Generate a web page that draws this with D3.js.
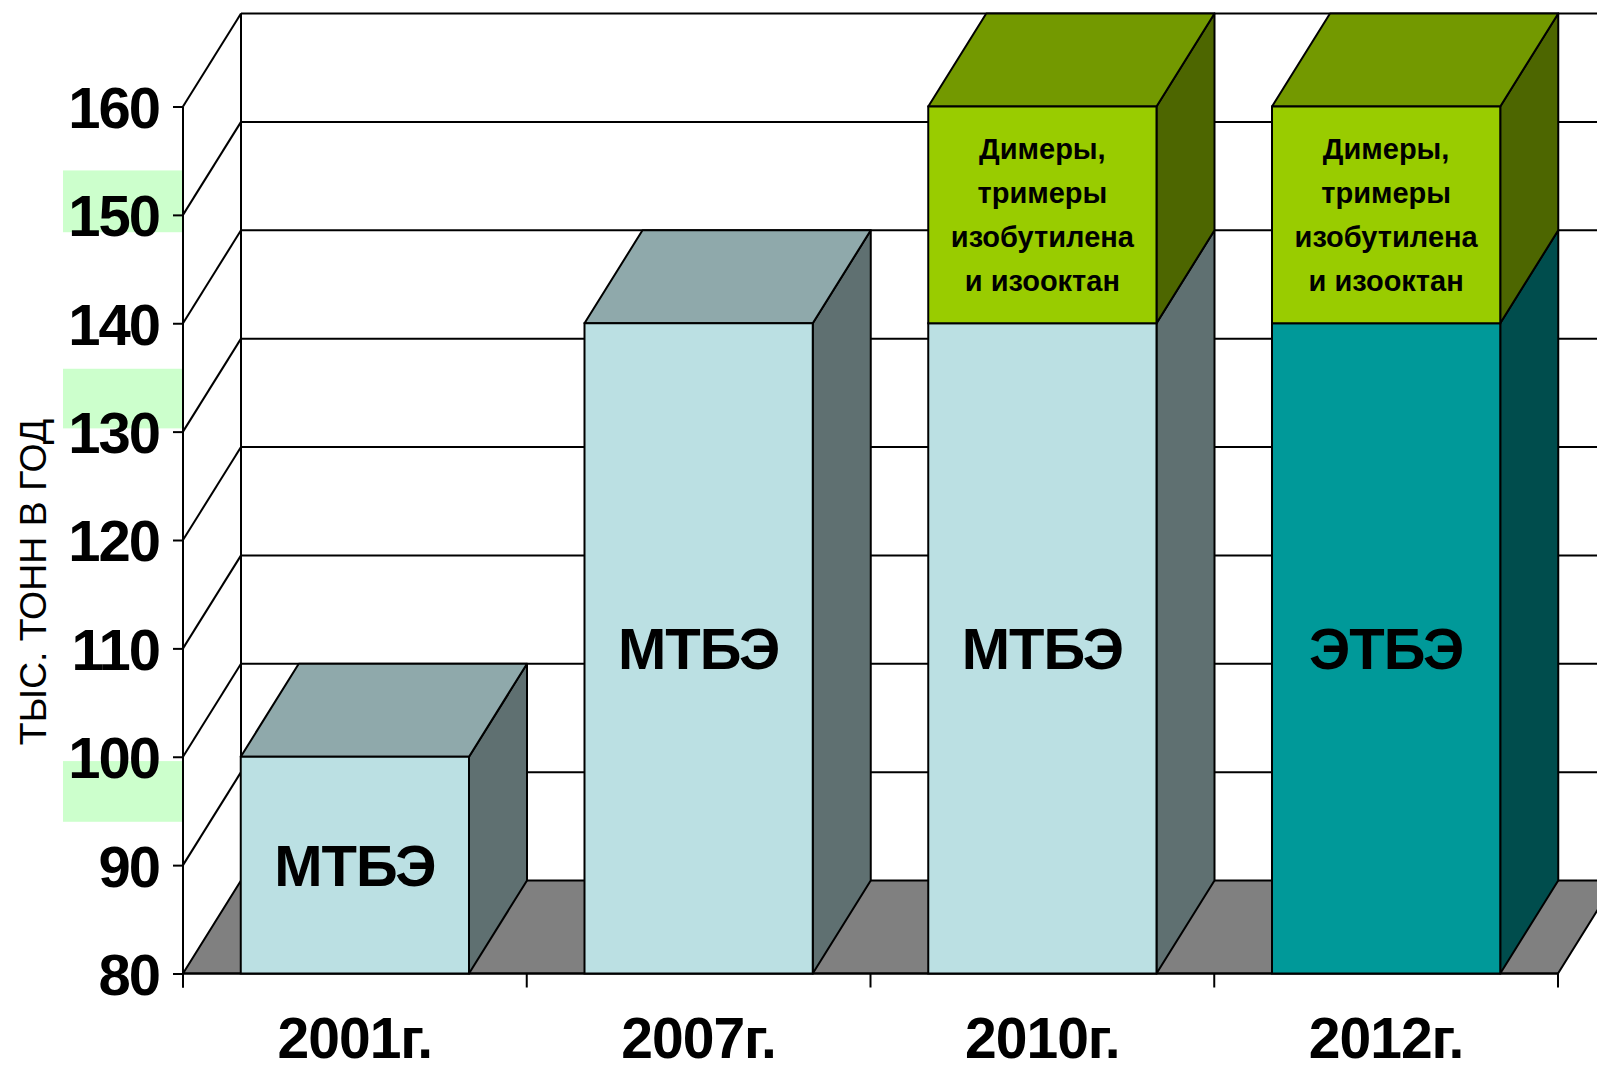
<!DOCTYPE html>
<html>
<head>
<meta charset="utf-8">
<script src="https://cdn.jsdelivr.net/npm/d3@7"></script>
<style>
  body { margin: 0; background: #fff; }
  text { font-family: "Liberation Sans", Arial, sans-serif; }
</style>
</head>
<body>
<div id="chart-container"></div>
<script>
const WIDTH = 1597;
const HEIGHT = 1067;
const PLOT = { left: 183, right: 1558, top: 106.5, bottom: 973.5 };
const DEPTH = { dx: 58, dy: -93 };

// data
const YEARS = ["2001г.", "2007г.", "2010г.", "2012г."];
const BASE_VALUES = [100, 140, 140, 140];
const BASE_NAMES = ["МТБЭ", "МТБЭ", "МТБЭ", "ЭТБЭ"];
const TOP_VALUES = [0, 0, 20, 20];
const TOP_LABEL = ["Димеры,", "тримеры", "изобутилена", "и изооктан"];
const Y_TICKS = [80, 90, 100, 110, 120, 130, 140, 150, 160];
const HIGHLIGHTS = [[148.4, 154.1], [130.3, 135.8], [94.0, 99.6]];

const COLORS = {
    "МТБЭ": { front: "#bbe0e3", side: "#5f7071", top: "#8fa9ab" },
    "ЭТБЭ": { front: "#009999", side: "#004d4d", top: "#007373" },
    extra: { front: "#99cc00", side: "#4d6600", top: "#739900" }
};

setup();

function setup() {
    const svg = d3.select("#chart-container").append("svg")
      .attr("width", WIDTH)
      .attr("height", HEIGHT);

    const xScale = d3.scaleBand()
      .domain(YEARS)
      .range([PLOT.left, PLOT.right])
      .paddingInner(0.336)
      .paddingOuter(0.168);

    const yScale = d3.scaleLinear()
      .domain([80, 160])
      .range([PLOT.bottom, PLOT.top]);

    // green highlight boxes behind some tick labels
    svg.selectAll(".hl")
      .data(HIGHLIGHTS)
      .enter()
      .append("rect")
      .attr("x", 63)
      .attr("width", PLOT.left - 63)
      .attr("y", d => yScale(d[1]))
      .attr("height", d => yScale(d[0]) - yScale(d[1]))
      .attr("fill", "#ccffcc");

    drawWalls(svg, yScale);

    // y axis
    const yAxis = svg.append("g")
      .attr("transform", `translate(${PLOT.left},0)`)
      .call(d3.axisLeft(yScale).tickValues(Y_TICKS).tickSize(10).tickPadding(14).tickFormat(d3.format("d")));
    yAxis.select(".domain").remove();
    yAxis.selectAll("line").attr("stroke", "#000").attr("stroke-width", 2);
    yAxis.selectAll("text")
      .attr("font-family", "Liberation Sans, Arial, sans-serif")
      .attr("font-size", 58)
      .attr("font-weight", "bold")
      .attr("letter-spacing", -2)
      .attr("fill", "#000")
      .attr("dy", "0.36em");

    svg.append("line")
      .attr("x1", PLOT.left).attr("x2", PLOT.left)
      .attr("y1", yScale(160)).attr("y2", PLOT.bottom + 14)
      .attr("stroke", "#000").attr("stroke-width", 2);

    // x axis
    const bandEdges = YEARS.map(d => xScale(d) - xScale.step() * xScale.paddingInner() / 2);
    bandEdges.push(PLOT.right);
    svg.append("line")
      .attr("x1", PLOT.left).attr("x2", PLOT.right)
      .attr("y1", PLOT.bottom).attr("y2", PLOT.bottom)
      .attr("stroke", "#000").attr("stroke-width", 2);
    svg.selectAll(".xtick")
      .data(bandEdges)
      .enter()
      .append("line")
      .attr("x1", d => d).attr("x2", d => d)
      .attr("y1", PLOT.bottom).attr("y2", PLOT.bottom + 14)
      .attr("stroke", "#000").attr("stroke-width", 2);
    svg.selectAll(".xlabel")
      .data(YEARS)
      .enter()
      .append("text")
      .attr("x", d => xScale(d) + xScale.bandwidth() / 2)
      .attr("y", 1058)
      .attr("text-anchor", "middle")
      .attr("font-size", 57)
      .attr("font-weight", "bold")
      .attr("letter-spacing", -1)
      .text(d => d);

    drawBars(svg, xScale, yScale);

    // axis title
    svg.append("text")
      .attr("transform", "translate(46,582) rotate(-90)")
      .attr("text-anchor", "middle")
      .attr("font-size", 37.5)
      .attr("fill", "#000")
      .text("ТЫС. ТОНН В ГОД");
}

function drawWalls(svg, yScale) {
    const bx = PLOT.left + DEPTH.dx;
    // floor
    const y0 = yScale(80);
    svg.append("path")
      .attr("d", `M${PLOT.left},${y0} L${PLOT.right},${y0} L${PLOT.right + DEPTH.dx},${y0 + DEPTH.dy} L${bx},${y0 + DEPTH.dy} Z`)
      .attr("fill", "#808080")
      .attr("stroke", "#000")
      .attr("stroke-width", 2);

    const grid = Y_TICKS.filter(v => v > 80);
    // back wall gridlines
    svg.selectAll(".grid")
      .data(grid)
      .enter()
      .append("line")
      .attr("x1", bx).attr("x2", WIDTH)
      .attr("y1", d => yScale(d) + DEPTH.dy).attr("y2", d => yScale(d) + DEPTH.dy)
      .attr("stroke", "#000").attr("stroke-width", 2);
    // side wall diagonals
    svg.selectAll(".diag")
      .data(grid)
      .enter()
      .append("line")
      .attr("x1", PLOT.left).attr("x2", bx)
      .attr("y1", d => yScale(d)).attr("y2", d => yScale(d) + DEPTH.dy)
      .attr("stroke", "#000").attr("stroke-width", 2);
    svg.append("line")
      .attr("x1", bx).attr("x2", bx)
      .attr("y1", yScale(160) + DEPTH.dy).attr("y2", y0 + DEPTH.dy)
      .attr("stroke", "#000").attr("stroke-width", 2);
}

function box(g, x, w, yTop, yBottom, c, withTop) {
    const dx = DEPTH.dx, dy = DEPTH.dy;
    g.append("path")
      .attr("d", `M${x + w},${yBottom} L${x + w + dx},${yBottom + dy} L${x + w + dx},${yTop + dy} L${x + w},${yTop} Z`)
      .attr("fill", c.side).attr("stroke", "#000").attr("stroke-width", 2).attr("stroke-linejoin", "round");
    if (withTop) {
        g.append("path")
          .attr("d", `M${x},${yTop} L${x + dx},${yTop + dy} L${x + w + dx},${yTop + dy} L${x + w},${yTop} Z`)
          .attr("fill", c.top).attr("stroke", "#000").attr("stroke-width", 2).attr("stroke-linejoin", "round");
    }
    g.append("rect")
      .attr("x", x).attr("y", yTop)
      .attr("width", w).attr("height", yBottom - yTop)
      .attr("fill", c.front).attr("stroke", "#000").attr("stroke-width", 2);
}

function drawBars(svg, xScale, yScale) {
    const w = xScale.bandwidth();
    YEARS.forEach((year, i) => {
        const g = svg.append("g");
        const x = xScale(year);
        const base = BASE_VALUES[i];
        const total = base + TOP_VALUES[i];
        box(g, x, w, yScale(base), yScale(80), COLORS[BASE_NAMES[i]], TOP_VALUES[i] === 0);
        g.append("text")
          .attr("x", x + w / 2)
          .attr("y", (yScale(base) + yScale(80)) / 2)
          .attr("dy", "0.36em")
          .attr("text-anchor", "middle")
          .attr("font-size", 58)
          .attr("font-weight", "bold")
          .attr("letter-spacing", -1)
          .text(BASE_NAMES[i]);
        if (TOP_VALUES[i] > 0) {
            box(g, x, w, yScale(total), yScale(base), COLORS.extra, true);
            const mid = (yScale(total) + yScale(base)) / 2;
            g.append("text")
              .attr("text-anchor", "middle")
              .attr("font-size", 29)
              .attr("font-weight", "bold")
              .selectAll("tspan")
              .data(TOP_LABEL)
              .enter()
              .append("tspan")
              .attr("x", x + w / 2)
              .attr("y", (d, j) => mid + (j - 1.5) * 44)
              .attr("dy", "0.36em")
              .text(d => d);
        }
    });
}
</script>
</body>
</html>
